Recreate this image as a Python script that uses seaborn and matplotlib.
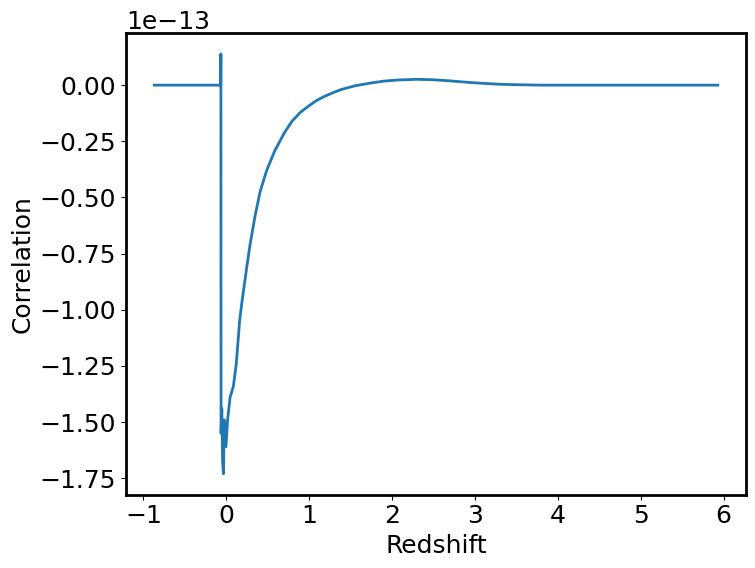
import matplotlib
matplotlib.use("Agg")
import matplotlib.pyplot as plt
import numpy as np
import pandas as pd
import seaborn as sns

# values (correlation in units of 1e-13)
redshift = [-0.87, -0.068, -0.066, -0.064, -0.055, -0.045, -0.035, -0.025,
            -0.005, 0.015, 0.045, 0.085, 0.12, 0.16, 0.19, 0.226, 0.26,
            0.286, 0.345, 0.405, 0.484, 0.583, 0.70, 0.794, 0.89, 0.992,
            1.09, 1.19, 1.29, 1.39, 1.55, 1.75, 1.9, 2.07, 2.3, 2.5, 2.7,
            2.9, 3.1, 3.3, 3.5, 3.8, 4.2, 5.93]
correlation = [0.0, 0.0, 0.139, -1.55, -1.44, -1.68, -1.73, -1.49,
               -1.61, -1.49, -1.39, -1.34, -1.24, -1.05, -0.96, -0.864, -0.775,
               -0.71, -0.585, -0.478, -0.382, -0.293, -0.212, -0.160, -0.122, -0.093,
               -0.068, -0.049, -0.033, -0.019, -0.003, 0.010, 0.018, 0.023, 0.026, 0.024, 0.019,
               0.013, 0.008, 0.004, 0.002, 0.0, 0.0, 0.0]

df = pd.DataFrame({"Redshift": redshift,
                   "Correlation": np.array(correlation) * 1e-13})

plt.rcParams["font.size"] = 18
fig, ax = plt.subplots(figsize=(7.55, 5.68), dpi=100)
fig.subplots_adjust(left=0.167, right=0.988, top=0.942, bottom=0.129)

sns.lineplot(data=df, x="Redshift", y="Correlation", estimator=None,
             color="#1f77b4", linewidth=2, ax=ax)

for s in ax.spines.values():
    s.set_linewidth(2)
ax.tick_params(labelsize=18)
ax.set_xlabel("Redshift", fontsize=18)
ax.set_ylabel("Correlation", fontsize=18)

fig.savefig("out.png", dpi=100)
